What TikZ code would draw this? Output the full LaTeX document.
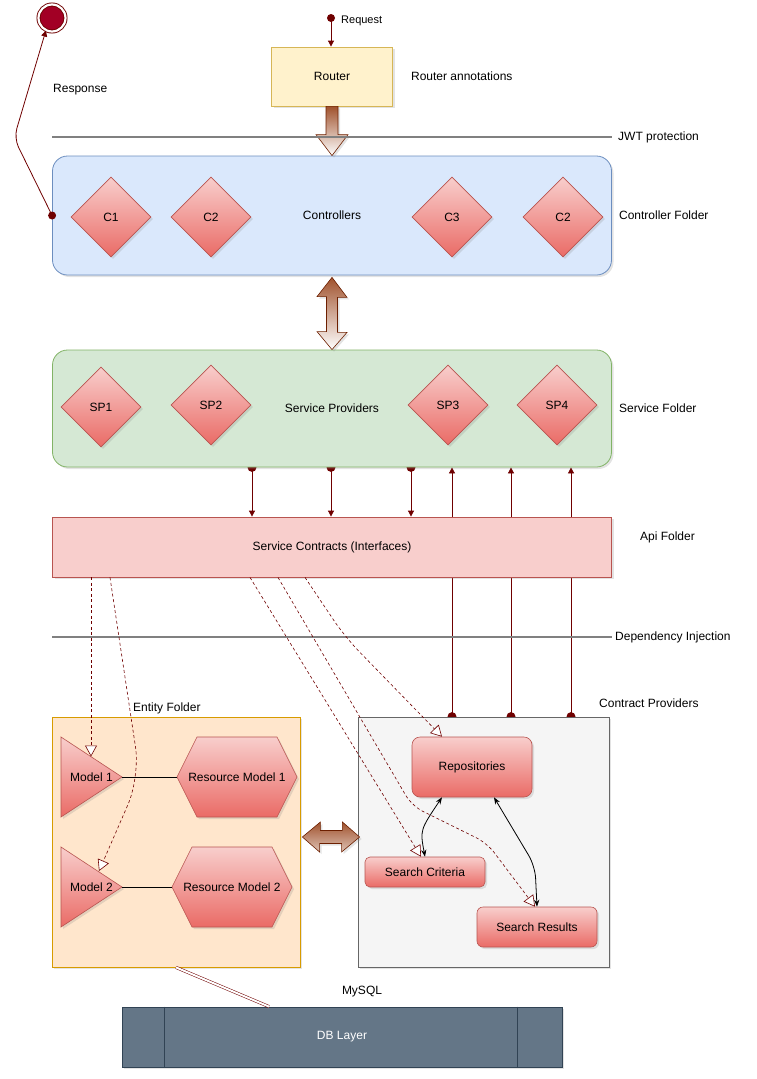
\documentclass[tikz,border=0pt]{standalone}
\usepackage{fontspec}
\setmainfont{Liberation Sans}
\usetikzlibrary{positioning,arrows.meta,shapes.geometric,shadows,calc}
\definecolor{routerfill}{HTML}{FFF2CC}
\definecolor{routerline}{HTML}{D6B656}
\definecolor{ctrlfill}{HTML}{DAE8FC}
\definecolor{ctrlline}{HTML}{6C8EBF}
\definecolor{svcfill}{HTML}{D5E8D4}
\definecolor{svcline}{HTML}{82B366}
\definecolor{apifill}{HTML}{F8CECC}
\definecolor{apiline}{HTML}{B85450}
\definecolor{entfill}{HTML}{FFE6CC}
\definecolor{entline}{HTML}{D79B00}
\definecolor{provfill}{HTML}{F5F5F5}
\definecolor{provline}{HTML}{666666}
\definecolor{dbfill}{HTML}{647687}
\definecolor{dbline}{HTML}{314354}
\definecolor{pinktop}{HTML}{F8CECC}
\definecolor{pinkbot}{HTML}{EA6B66}
\definecolor{pinkline}{HTML}{B85450}
\definecolor{linered}{HTML}{6F0000}
\definecolor{endred}{HTML}{A20025}
\definecolor{arrowbrown}{HTML}{A0522D}
\definecolor{arrowline}{HTML}{6D1F00}
\definecolor{sepgray}{HTML}{808080}
\pgfdeclarelayer{bg}
\pgfsetlayers{bg,main}
\tikzset{
lbl/.style={font=\fontsize{12}{14}\selectfont, inner sep=1pt},
shd/.style={drop shadow={opacity=.22,shadow xshift=2pt,shadow yshift=-2pt}},
folder/.style={draw, rectangle, line width=.8pt, shd, lbl, inner sep=0pt},
pinkshape/.style={draw=pinkline, line width=.6pt, top color=pinktop, bottom color=pinkbot, shd},
cdiamond/.style={diamond, pinkshape, minimum width=80pt, minimum height=80pt, inner sep=0pt, lbl},
pinkbox/.style={rectangle, pinkshape, lbl},
conn/.style={draw=linered, line width=.8pt, -{Triangle[length=6pt,width=6pt]}},
depline/.style={draw=linered, line width=.6pt, dash pattern=on 3pt off 2.5pt, -{Triangle[length=11pt,width=12pt,fill=white]}},
dotnode/.style={circle, fill=linered, inner sep=0pt, minimum size=8pt},
sepline/.style={draw=sepgray, line width=1.5pt},
blockarrow/.style={draw=arrowline, line width=.6pt, top color=arrowbrown, bottom color=white, shd},
twoway/.style={draw=black, line width=.8pt, {Stealth[length=7pt]}-{Stealth[length=7pt]}},
}
\begin{document}
\begin{tikzpicture}[x=1pt,y=-1pt]
\useasboundingbox (0,0) rectangle (756,1079);

% folders
\node[folder, draw=routerline, fill=routerfill, minimum width=121pt, minimum height=59pt] (router) at (332,76.5) {Router};
\node[folder, draw=ctrlline, fill=ctrlfill, rounded corners=15pt, minimum width=559pt, minimum height=119pt] (ctrl) at (332,215.5) {Controllers};
\node[folder, draw=svcline, fill=svcfill, rounded corners=15pt, minimum width=559pt, minimum height=117pt] (svc) at (332,408.5) {Service Providers};
\node[folder, draw=apiline, fill=apifill, minimum width=559pt, minimum height=60pt] (api) at (332,547) {Service Contracts (Interfaces)};
\node[folder, draw=entline, fill=entfill, minimum width=248pt, minimum height=250pt] (ent) at (176,842) {};
\node[folder, draw=provline, fill=provfill, minimum width=251pt, minimum height=250pt] (prov) at (483.5,842) {};
\node[folder, draw=dbline, fill=dbfill, text=white, minimum width=440pt, minimum height=60pt] (db) at (342,1037) {DB Layer};
\draw[dbline, line width=.8pt] ([xshift=43pt]db.north west) -- ([xshift=43pt]db.south west);
\draw[dbline, line width=.8pt] ([xshift=-45pt]db.north east) -- ([xshift=-45pt]db.south east);

% controllers and service providers
\foreach \n/\t/\x in {ca/C1/111, cb/C2/211, cc/C3/452, cd/C2/563}
  \node[cdiamond] (\n) at (\x,217) {\t};
\foreach \n/\t/\x/\y in {spa/SP1/101/407, spb/SP2/211/405, spc/SP3/448/405, spd/SP4/557/405}
  \node[cdiamond] (\n) at (\x,\y) {\t};

% entity folder
\foreach \i/\y/\hx in {1/777/237, 2/887/232}{
  \path[pinkshape] (61,\y-40) -- (122,\y) -- (61,\y+40) -- cycle;
  \node[lbl] (model\i) at (91.5,\y) {Model \i};
  \coordinate (mtip\i) at (122,\y);
  \path[pinkshape] (\hx-60,\y) -- ++(20,-40) -- ++(80,0) -- ++(20,40) -- ++(-20,40) -- ++(-80,0) -- cycle;
  \coordinate (hexl\i) at (\hx-60,\y);
  \node[lbl] (rmodel\i) at (\hx,\y) {Resource Model \i};
  \draw[line width=.7pt] (mtip\i) -- (hexl\i);
}
\coordinate (m1in) at (91,756.5);
\coordinate (m2in) at (99,871);

% contract providers
\node[pinkbox, rounded corners=8pt, minimum width=120pt, minimum height=60pt] (repo) at (472,767) {Repositories};
\node[pinkbox, rounded corners=5pt, minimum width=120pt, minimum height=30pt] (crit) at (425,872) {Search Criteria};
\node[pinkbox, rounded corners=6pt, minimum width=120pt, minimum height=40pt] (res) at (537,927) {Search Results};

% block arrows
\path[blockarrow] ($(router.south)+(-6,0)$) -- ($(ctrl.north)+(-6,-21)$) -- ($(ctrl.north)+(-16,-21)$) -- (ctrl.north)
  -- ($(ctrl.north)+(16,-21)$) -- ($(ctrl.north)+(6,-21)$) -- ($(router.south)+(6,0)$) -- cycle;
\path[blockarrow] ($(ctrl.south)+(0,2)$) -- ++(15,20) -- ++(-9.5,0) -- ++(0,35) -- ++(9.5,0) -- (svc.north)
  -- ++(-15,-18) -- ++(9.5,0) -- ++(0,-35) -- ++(-9.5,0) -- cycle;
\path[blockarrow, bottom color=arrowbrown!35] ($(ent.east)+(2,-5)$) -- ++(18,-15) -- ++(0,8.5) -- ++(22,0) -- ++(0,-8.5)
  -- ($(prov.west)+(2,-5)$) -- ++(-18,15) -- ++(0,-8.5) -- ++(-22,0) -- ++(0,8.5) -- cycle;

% separators
\coordinate (jwtL) at (52,137);
\coordinate (jwtR) at (612,137);
\draw[sepline] (jwtL) -- (jwtR);
\coordinate (diL) at (52,637);
\coordinate (diR) at (612,637);
\draw[sepline] (diL) -- (diR);

% request / response
\node[circle, fill=endred, draw=linered, double=white, double distance=2.2pt, line width=.9pt, minimum size=27pt, inner sep=0pt] (endpt) at (52,18) {};
\node[dotnode] (respdot) at (ctrl.west) {};
\draw[conn, rounded corners=10pt] (respdot.center) -- (14,138) -- (endpt.-116);
\node[dotnode] (reqdot) at (331,18) {};
\draw[conn] (reqdot.center) -- (reqdot.center |- router.north);

% service <-> contracts
\begin{pgfonlayer}{bg}
\foreach \x in {252,331,411}{
  \draw[conn] (svc.south -| \x,0) -- (api.north -| \x,0);
  \fill[linered] (svc.south -| \x,0) circle (4.5pt);
}
\foreach \x in {452,511,571}{
  \draw[conn] (prov.north -| \x,0) -- (svc.south -| \x,0);
  \fill[linered] (prov.north -| \x,0) circle (4.5pt);
}
\end{pgfonlayer}

% dependencies
\draw[depline] (api.south -| m1in) -- (m1in);
\draw[depline, rounded corners=30pt] (api.south -| 110,0) -- (140,777) -- (m2in);
\draw[depline] (api.south -| 250,0) -- (crit.north -| 421,0);
\draw[depline, rounded corners=12pt] (api.south -| 278,0) -- (412,806) -- (487,843) -- (res.north -| 535,0);
\draw[depline, rounded corners=20pt] (api.south -| 305,0) -- (345,637) -- (repo.north -| 442,0);
\draw[twoway] (repo.south -| 442,0) .. controls (420,830) .. (crit.north -| 425,0);
\draw[twoway, rounded corners=12pt] (repo.south -| 494,0) -- (535,866) -- (res.north -| 537,0);
\draw[draw=linered, double=white, double distance=2pt, line width=.5pt] (ent.south) -- (db.north -| 269,0);

% labels
\node[lbl, font=\fontsize{11}{13}\selectfont, anchor=west] (reqlbl) at (340,21) {Request};
\node[lbl, anchor=west] (resplbl) at (52,90) {Response};
\node[lbl, right=17pt of router.east] (routerlbl) {Router annotations};
\node[lbl, right=5pt of jwtR] (jwtlbl) {JWT protection};
\node[lbl, right=6pt of ctrl.east] (ctrllbl) {Controller Folder};
\node[lbl, right=6pt of svc.east] (svclbl) {Service Folder};
\node[lbl, right=27pt of api.east, yshift=10pt] (apilbl) {Api Folder};
\node[lbl, right=2pt of diR] (dilbl) {Dependency Injection};
\node[lbl, anchor=west] (provlbl) at (598,703) {Contract Providers};
\node[lbl, anchor=west] (entlbl) at (132,708) {Entity Folder};
\node[lbl] (sqllbl) at (362,992) {MySQL};
\end{tikzpicture}
\end{document}
